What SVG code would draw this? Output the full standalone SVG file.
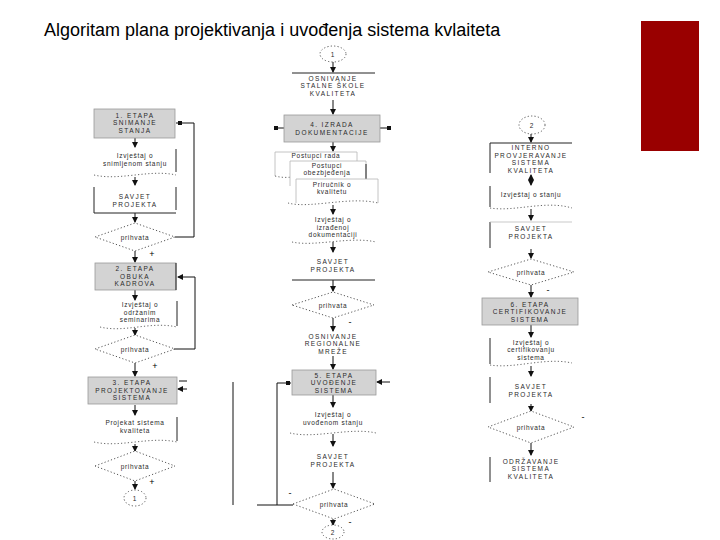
<svg xmlns="http://www.w3.org/2000/svg" width="720" height="540" viewBox="0 0 720 540">
<style>
text{font-family:"Liberation Sans",Arial,sans-serif;fill:#2a2a2a;text-anchor:middle}
.t{font-size:18px;text-anchor:start;fill:#000}
.c{font-size:6.5px;letter-spacing:1.4px}
.l{font-size:6.5px;letter-spacing:0.7px}
.gray{fill:#d3d3d3;stroke:#9a9a9a;stroke-width:0.8}
.box{fill:#fff;stroke:#b5b5b5;stroke-width:0.8}
.edge{fill:none;stroke:#222;stroke-width:1}
.wave{fill:none;stroke:#555;stroke-width:0.9;stroke-dasharray:1.2 2.2}
.dia{fill:#fff;stroke:#444;stroke-width:0.9;stroke-dasharray:1.2 2.2}
.con{fill:none;stroke:#111;stroke-width:1}
.sg{font-size:9px;fill:#000;letter-spacing:0}
</style>
<defs>
<marker id="ah" markerUnits="userSpaceOnUse" markerWidth="6" markerHeight="6" refX="5" refY="3" orient="auto-start-reverse"><path d="M0,0 L6,3 L0,6 z" fill="#111"/></marker>
</defs>
<rect x="641" y="21" width="58" height="130" fill="#990000"/>
<text class="t" x="44" y="36">Algoritam plana projektivanja i uvođenja sistema kvlaiteta</text>

<g id="connectors">
<path class="con" d="M135 138 V147" marker-end="url(#ah)"/>
<path class="con" d="M135 177 V185" marker-end="url(#ah)"/>
<path class="con" d="M135 213 V222" marker-end="url(#ah)"/>
<path class="con" d="M135 251 V262" marker-end="url(#ah)"/>
<path class="con" d="M135 290 V300" marker-end="url(#ah)"/>
<path class="con" d="M135 328 V335" marker-end="url(#ah)"/>
<path class="con" d="M135 363 V376" marker-end="url(#ah)"/>
<path class="con" d="M135 405 V415" marker-end="url(#ah)"/>
<path class="con" d="M135 444 V451" marker-end="url(#ah)"/>
<path class="con" d="M135 481 V489" marker-end="url(#ah)"/>
<path class="con" d="M175 237 H194 V123 H176"/>
<rect x="178" y="121" width="4" height="4" fill="#111"/>
<path class="con" d="M174 349 H195 V277 H178" marker-end="url(#ah)"/>
<path class="con" d="M187 381 H179"/>
<path class="con" d="M187 389 H178" marker-end="url(#ah)"/>
<path class="con" d="M333 62 V72" marker-end="url(#ah)"/>
<path class="con" d="M333 100 V114" marker-end="url(#ah)"/>
<path class="con" d="M333 142 V151" marker-end="url(#ah)"/>
<path class="con" d="M284 128 H275"/>
<rect x="274" y="126" width="4" height="4" fill="#111"/>
<path class="con" d="M380 128 H390"/>
<rect x="387" y="126" width="4" height="4" fill="#111"/>
<path class="con" d="M333 205 V214" marker-end="url(#ah)"/>
<path class="con" d="M333 242 V252" marker-end="url(#ah)"/>
<path class="con" d="M333 280 V291" marker-end="url(#ah)"/>
<path class="con" d="M333 318 V331" marker-end="url(#ah)"/>
<path class="con" d="M333 356 V369" marker-end="url(#ah)"/>
<path class="con" d="M390 382 H377" marker-end="url(#ah)"/>
<path class="con" d="M333 395 V407" marker-end="url(#ah)"/>
<path class="con" d="M333 434 V446" marker-end="url(#ah)"/>
<path class="con" d="M333 472 V488" marker-end="url(#ah)"/>
<path class="con" d="M293 505 H257"/>
<path class="con" d="M277 505 V383 H291"/>
<rect x="286" y="381" width="4" height="4" fill="#111"/>
<path class="con" d="M233 382 V505"/>
<path class="con" d="M333 519 V525" marker-end="url(#ah)"/>
<path class="con" d="M531 134 V142" marker-end="url(#ah)"/>
<path class="con" d="M531 175 V185" marker-start="url(#ah)" marker-end="url(#ah)"/>
<path class="con" d="M531 209 V220" marker-end="url(#ah)"/>
<path class="con" d="M531 249 V258" marker-end="url(#ah)"/>
<path class="con" d="M531 285 V297" marker-end="url(#ah)"/>
<path class="con" d="M531 325 V337" marker-end="url(#ah)"/>
<path class="con" d="M531 366 V376" marker-end="url(#ah)"/>
<path class="con" d="M531 404 V411" marker-end="url(#ah)"/>
<path class="con" d="M531 443 V455" marker-end="url(#ah)"/>
</g>

<g id="etapa1"><rect class="gray" x="94" y="109" width="81" height="29"/><text class="c" x="135" y="117.5">1. ETAPA</text><text class="c" x="135" y="125">SNIMANJE</text><text class="c" x="135" y="132.5">STANJA</text></g>
<g id="izv1"><path class="edge" d="M176 149 V172"/><path class="wave" d="M94 175 C120 181 150 169 176 175"/><text class="l" x="135" y="158">Izvještaj o</text><text class="l" x="135" y="166">snimljenom stanju</text></g>
<g id="savjet1"><path class="edge" d="M94 187 V213 H176 M176 187 V210"/><text class="c" x="135" y="199">SAVJET</text><text class="c" x="135" y="207">PROJEKTA</text></g>
<g id="d1"><polygon class="dia" points="95,237 135,223 175,237 135,251"/><text class="l" x="135" y="240">prihvata</text><text class="sg" x="152" y="257">+</text></g>
<g id="etapa2"><rect class="gray" x="95" y="263" width="81" height="27"/><path class="edge" d="M176 263 V290"/><text class="c" x="135" y="271">2. ETAPA</text><text class="c" x="135" y="278.5">OBUKA</text><text class="c" x="135" y="286">KADROVA</text></g>
<g id="izv2"><path class="edge" d="M177 301 V326"/><path class="wave" d="M100 327 C125 333 150 321 177 327"/><text class="l" x="140" y="307">Izvještaj o</text><text class="l" x="140" y="314.5">održanim</text><text class="l" x="140" y="322">seminarima</text></g>
<g id="d2"><polygon class="dia" points="95,349 135,335 175,349 135,363"/><text class="l" x="135" y="352">prihvata</text><text class="sg" x="155" y="369">+</text></g>
<g id="etapa3"><rect class="gray" x="88" y="377" width="89" height="27"/><text class="c" x="132" y="385">3. ETAPA</text><text class="c" x="132" y="392.5">PROJEKTOVANJE</text><text class="c" x="132" y="400">SISTEMA</text></g>
<g id="projekat"><path class="edge" d="M177 417 V441"/><path class="wave" d="M94 442 C120 448 150 436 177 442"/><text class="l" x="135" y="425">Projekat sistema</text><text class="l" x="135" y="433">kvaliteta</text></g>
<g id="d3"><polygon class="dia" points="95,466 135,451 175,466 135,481"/><text class="l" x="135" y="469">prihvata</text><text class="sg" x="152" y="485">+</text></g>
<g id="c1a"><ellipse cx="135" cy="498" rx="11" ry="8" class="dia"/><text class="l" x="135" y="500.5">1</text></g>

<g id="c1b"><ellipse cx="333" cy="54" rx="13" ry="8" class="dia"/><text class="l" x="333" y="56.5">1</text></g>
<g id="skola"><path class="edge" d="M292 73 H375" stroke="#888"/><text class="c" x="333" y="80.5">OSNIVANJE</text><text class="c" x="333" y="88">STALNE ŠKOLE</text><text class="c" x="333" y="95.5">KVALITETA</text></g>
<g id="etapa4"><rect class="gray" x="284" y="115" width="96" height="27"/><text class="c" x="332" y="127">4. IZRADA</text><text class="c" x="332" y="135">DOKUMENTACIJE</text></g>
<g id="docs">
<path class="box" d="M275 176 V152 H357 V176"/><path class="wave" d="M275 176 C290 180 300 174 310 176"/><text class="l" x="316" y="158">Postupci rada</text>
<path class="box" d="M290 186 V161 H366 V186"/><path class="edge" d="M366 164 V184"/><text class="l" x="327" y="167.5">Postupci</text><text class="l" x="327" y="175">obezbjeđenja</text>
<path class="box" d="M296 203 V179 H378 V203"/><path class="wave" d="M288 203 C310 209 350 196 378 203"/><text class="l" x="332" y="186.5">Priručnik o</text><text class="l" x="332" y="194">kvalitetu</text>
</g>
<g id="izv4"><path class="wave" d="M292 242 C315 247 350 236 376 242"/><text class="l" x="333" y="222">Izvještaj o</text><text class="l" x="333" y="229.5">izrađenoj</text><text class="l" x="333" y="237">dokumentaciji</text></g>
<g id="savjet4"><path class="edge" d="M292 280 H375"/><text class="c" x="333" y="264">SAVJET</text><text class="c" x="333" y="271.5">PROJEKTA</text></g>
<g id="d4"><polygon class="dia" points="292,305 333,292 374,305 333,318"/><text class="l" x="333" y="308">prihvata</text><text class="sg" x="350" y="325">-</text></g>
<g id="mreza"><text class="c" x="333" y="338.5">OSNIVANJE</text><text class="c" x="333" y="346">REGIONALNE</text><text class="c" x="333" y="353.5">MREŽE</text></g>
<g id="etapa5"><rect class="gray" x="292" y="370" width="84" height="25"/><text class="c" x="334" y="377.5">5. ETAPA</text><text class="c" x="334" y="385">UVOĐENJE</text><text class="c" x="334" y="392.5">SISTEMA</text></g>
<g id="izv5"><path class="wave" d="M290 433 C315 439 350 427 376 433"/><text class="l" x="333" y="417">Izvještaj o</text><text class="l" x="333" y="424.5">uvođenom stanju</text></g>
<g id="savjet5"><text class="c" x="333" y="459">SAVJET</text><text class="c" x="333" y="466.5">PROJEKTA</text></g>
<g id="d5"><polygon class="dia" points="293,504 334,489 375,504 334,519"/><text class="l" x="334" y="507">prihvata</text><text class="sg" x="290" y="496">-</text><text class="sg" x="350" y="525">-</text></g>
<g id="c2a"><ellipse cx="333" cy="532" rx="11" ry="7" class="dia"/><text class="l" x="333" y="534.5">2</text></g>

<g id="c2b"><ellipse cx="532" cy="125" rx="13" ry="9" class="dia"/><text class="l" x="532" y="127.5">2</text></g>
<g id="interno"><path class="edge" d="M490 173 V143 H572"/><text class="c" x="531" y="150">INTERNO</text><text class="c" x="531" y="157.5">PROVJERAVANJE</text><text class="c" x="531" y="165">SISTEMA</text><text class="c" x="531" y="172.5">KVALITETA</text></g>
<g id="izv6"><path class="edge" d="M490 186 V207"/><path class="wave" d="M490 208 C515 212 545 200 572 208"/><text class="l" x="531" y="197">Izvještaj o stanju</text></g>
<g id="savjet6"><path class="edge" d="M490 248 V222"/><path d="M490 222 H572" stroke="#bbb" stroke-width="0.8"/><text class="c" x="531" y="231">SAVJET</text><text class="c" x="531" y="239">PROJEKTA</text></g>
<g id="d6"><polygon class="dia" points="488,272 531,259 574,272 531,285"/><text class="l" x="531" y="275">prihvata</text><text class="sg" x="548" y="293">-</text></g>
<g id="etapa6"><rect class="gray" x="482" y="298" width="96" height="27"/><text class="c" x="530" y="306.5">6. ETAPA</text><text class="c" x="530" y="314">CERTIFIKOVANJE</text><text class="c" x="530" y="321.5">SISTEMA</text></g>
<g id="izv7"><path class="edge" d="M490 338 V364"/><path class="wave" d="M490 365 C515 369 545 357 572 363"/><text class="l" x="531" y="344.5">Izvještaj o</text><text class="l" x="531" y="352">certifikovanju</text><text class="l" x="531" y="359.5">sistema</text></g>
<g id="savjet7"><path class="edge" d="M490 377 V403"/><text class="c" x="531" y="389">SAVJET</text><text class="c" x="531" y="396.5">PROJEKTA</text></g>
<g id="d7"><polygon class="dia" points="488,427 531,411 574,427 531,443"/><text class="l" x="531" y="430">prihvata</text><text class="sg" x="583" y="420">-</text></g>
<g id="odrzavanje"><path class="edge" d="M490 457 V482"/><text class="c" x="531" y="463.5">ODRŽAVANJE</text><text class="c" x="531" y="471">SISTEMA</text><text class="c" x="531" y="478.5">KVALITETA</text></g>
</svg>
